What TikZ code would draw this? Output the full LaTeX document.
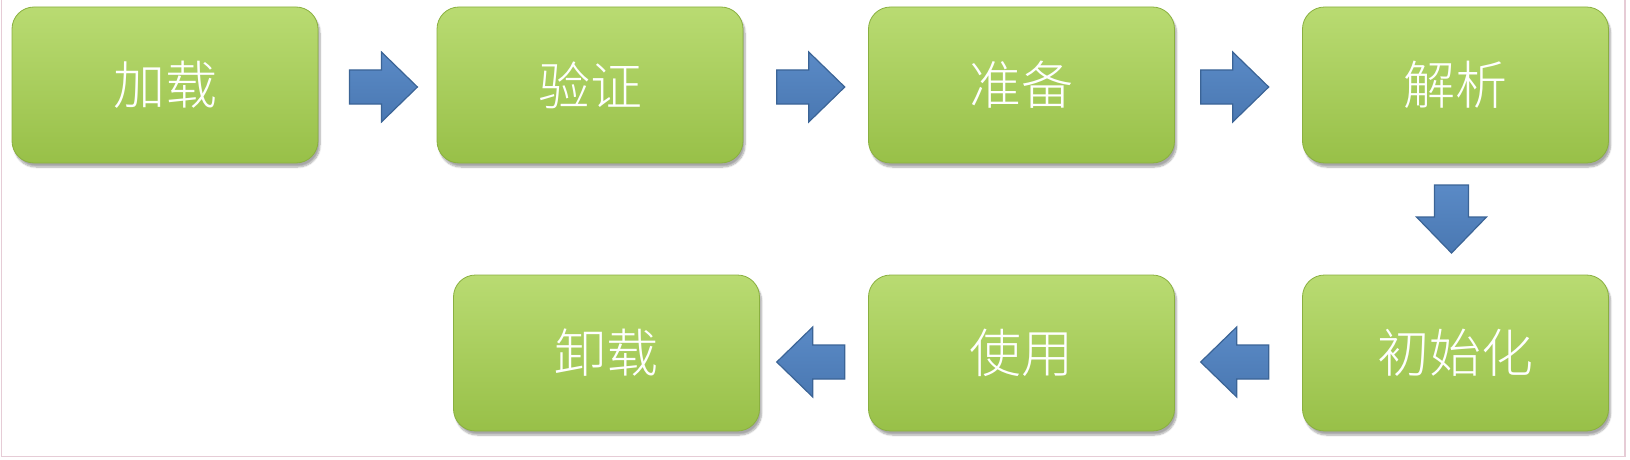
\documentclass[tikz,border=0pt]{standalone}
\usepackage{fontspec}
\newfontfamily\cjk{Noto Sans CJK SC Light}
\usetikzlibrary{shadows.blur,calc}
\definecolor{boxtop}{HTML}{B9DB72}
\definecolor{boxbot}{HTML}{98C048}
\definecolor{boxedge}{HTML}{8AB040}
\definecolor{arrtop}{HTML}{5A8AC6}
\definecolor{arrbot}{HTML}{4A78B2}
\definecolor{arredge}{HTML}{3B6496}
\definecolor{framecol}{HTML}{E6CCD6}
\tikzset{
  stage/.style={rounded corners=22pt, minimum width=306pt, minimum height=156pt,
    top color=boxtop, bottom color=boxbot, draw=boxedge, line width=0.8pt,
    blur shadow={shadow xshift=2pt, shadow yshift=-4pt, shadow blur steps=8, shadow opacity=35},
    text=white, font=\cjk\fontsize{52}{60}\selectfont, inner sep=0pt},
  blockarrow/.style={top color=arrtop, bottom color=arrbot, draw=arredge, line width=1.2pt, line join=miter},
  barrow/.pic={\path[blockarrow] (-34,-17) -- (-2,-17) -- (-2,-35) -- (34,0) -- (-2,35) -- (-2,17) -- (-34,17) -- cycle;}
}
\begin{document}
\begin{tikzpicture}[x=1pt,y=-1pt]
\useasboundingbox (0,0) rectangle (1630,460);
\draw[framecol, line width=1.2pt] (1.5,0) -- (1.5,456.5) -- (1625,456.5) -- (1625,0);
\node[stage] (b1) at (165,85) {加载};
\node[stage] (b2) at (590,85) {验证};
\node[stage] (b3) at (1021.5,85) {准备};
\node[stage] (b4) at (1455.5,85) {解析};
\node[stage] (b5) at (1455.5,353) {初始化};
\node[stage] (b6) at (1021.5,353) {使用};
\node[stage] (b7) at (606.5,353) {卸载};
\coordinate (a1) at ($(b1.east)!0.55!(b2.west)+(0,2)$);
\coordinate (a2) at ($(b2.east)!0.54!(b3.west)+(0,2)$);
\coordinate (a3) at ($(b3.east)!0.47!(b4.west)+(0,2)$);
\coordinate (a4) at ($(b4.south)!0.5!(b5.north)+(-4,0)$);
\coordinate (a5) at ($(b6.east)!0.47!(b5.west)+(0,9)$);
\coordinate (a6) at ($(b7.east)!0.47!(b6.west)+(0,9)$);
\pic at (a1) {barrow};
\pic at (a2) {barrow};
\pic at (a3) {barrow};
\pic[rotate=-90] at (a4) {barrow};
\pic[rotate=180] at (a5) {barrow};
\pic[rotate=180] at (a6) {barrow};
\end{tikzpicture}
\end{document}
